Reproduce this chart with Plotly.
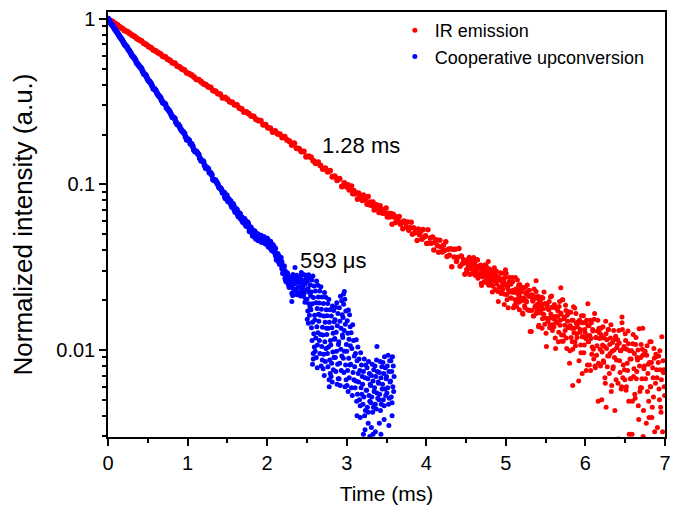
import plotly.graph_objects as go

# ---------------- IR emission (red) : time in ms, normalized intensity ----------------
ir_head_t = [
    0.00, 0.03, 0.06, 0.09, 0.12, 0.15, 0.18, 0.21, 0.24, 0.27,
    0.30, 0.33, 0.36, 0.39, 0.42, 0.45, 0.48, 0.51, 0.54, 0.57,
    0.60, 0.63, 0.66, 0.69, 0.72, 0.75, 0.78, 0.81, 0.84, 0.87,
    0.90, 0.93, 0.96, 0.99, 1.02, 1.05, 1.08, 1.11, 1.14, 1.17,
    1.20, 1.23, 1.26, 1.29, 1.32, 1.35, 1.38, 1.41, 1.44, 1.47,
    1.50, 1.53, 1.56, 1.59, 1.62, 1.65, 1.68, 1.71, 1.74, 1.77,
    1.80, 1.83, 1.86, 1.89, 1.92, 1.95, 1.98, 2.01, 2.04, 2.07,
    2.10, 2.13, 2.16, 2.19, 2.22, 2.25, 2.28, 2.31, 2.34, 2.37,
    2.40, 2.43, 2.46, 2.49, 2.52, 2.55, 2.58, 2.61, 2.64, 2.67,
    2.70, 2.73, 2.76, 2.79, 2.82, 2.85, 2.88, 2.91, 2.94, 2.97]
ir_head_v = [
    1.000, 0.975, 0.958, 0.935, 0.917, 0.892, 0.874, 0.851, 0.838, 0.818,
    0.798, 0.784, 0.762, 0.747, 0.734, 0.711, 0.700, 0.681, 0.668, 0.648,
    0.640, 0.623, 0.612, 0.594, 0.587, 0.570, 0.559, 0.542, 0.538, 0.519,
    0.511, 0.497, 0.490, 0.472, 0.466, 0.457, 0.445, 0.431, 0.429, 0.416,
    0.405, 0.399, 0.388, 0.385, 0.369, 0.365, 0.354, 0.350, 0.334, 0.335,
    0.327, 0.315, 0.313, 0.303, 0.301, 0.289, 0.285, 0.274, 0.274, 0.267,
    0.259, 0.257, 0.247, 0.243, 0.242, 0.229, 0.229, 0.220, 0.218, 0.207,
    0.210, 0.202, 0.201, 0.192, 0.194, 0.185, 0.182, 0.173, 0.177, 0.165,
    0.164, 0.158, 0.158, 0.147, 0.148, 0.146, 0.139, 0.134, 0.136, 0.130,
    0.124, 0.125, 0.119, 0.121, 0.111, 0.112, 0.106, 0.108, 0.097, 0.102]

ir_mid_t = [
    3.000, 3.015, 3.030, 3.045, 3.060, 3.075, 3.090, 3.105, 3.120, 3.135,
    3.150, 3.165, 3.180, 3.195, 3.210, 3.225, 3.240, 3.255, 3.270, 3.285,
    3.300, 3.315, 3.330, 3.345, 3.360, 3.375, 3.390, 3.405, 3.420, 3.435,
    3.450, 3.465, 3.480, 3.495, 3.510, 3.525, 3.540, 3.555, 3.570, 3.585,
    3.600, 3.615, 3.630, 3.645, 3.660, 3.675, 3.690, 3.705, 3.720, 3.735,
    3.750, 3.765, 3.780, 3.795, 3.810, 3.825, 3.840, 3.855, 3.870, 3.885,
    3.900, 3.915, 3.930, 3.945, 3.960, 3.975, 3.990, 4.005, 4.020, 4.035,
    4.050, 4.065, 4.080, 4.095, 4.110, 4.125, 4.140, 4.155, 4.170, 4.185,
    4.200, 4.215, 4.230, 4.245, 4.260, 4.275, 4.290, 4.305, 4.320, 4.335,
    4.350, 4.365, 4.380, 4.395, 4.410, 4.425, 4.440, 4.455, 4.470, 4.485]
ir_mid_v = [
    0.0963, 0.0996, 0.0925, 0.0938, 0.0976, 0.0878, 0.0919, 0.0874, 0.0886, 0.0813,
    0.0886, 0.0839, 0.0856, 0.0798, 0.0861, 0.0805, 0.0811, 0.0758, 0.0846, 0.0754,
    0.0782, 0.0746, 0.0783, 0.0699, 0.0743, 0.0754, 0.0716, 0.0675, 0.0743, 0.0700,
    0.0668, 0.0702, 0.0670, 0.0720, 0.0634, 0.0669, 0.0634, 0.0667, 0.0574, 0.0660,
    0.0633, 0.0588, 0.0634, 0.0600, 0.0639, 0.0574, 0.0591, 0.0540, 0.0601, 0.0584,
    0.0553, 0.0592, 0.0528, 0.0547, 0.0591, 0.0500, 0.0547, 0.0508, 0.0526, 0.0458,
    0.0537, 0.0496, 0.0519, 0.0466, 0.0534, 0.0481, 0.0490, 0.0440, 0.0531, 0.0442,
    0.0474, 0.0441, 0.0481, 0.0401, 0.0447, 0.0462, 0.0426, 0.0389, 0.0459, 0.0419,
    0.0390, 0.0428, 0.0398, 0.0450, 0.0367, 0.0405, 0.0373, 0.0408, 0.0318, 0.0406,
    0.0364, 0.0405, 0.0342, 0.0363, 0.0410, 0.0320, 0.0369, 0.0332, 0.0351, 0.0286]

ir_tail_t = [
    4.50, 4.51, 4.52, 4.53, 4.54, 4.55, 4.56, 4.57, 4.58, 4.59,
    4.60, 4.61, 4.62, 4.63, 4.64, 4.65, 4.66, 4.67, 4.68, 4.69,
    4.70, 4.71, 4.72, 4.73, 4.74, 4.75, 4.76, 4.77, 4.78, 4.79,
    4.80, 4.81, 4.82, 4.83, 4.84, 4.85, 4.86, 4.87, 4.88, 4.89,
    4.90, 4.91, 4.92, 4.93, 4.94, 4.95, 4.96, 4.97, 4.98, 4.99,
    5.00, 5.01, 5.02, 5.03, 5.04, 5.05, 5.06, 5.07, 5.08, 5.09,
    5.10, 5.11, 5.12, 5.13, 5.14, 5.15, 5.16, 5.17, 5.18, 5.19,
    5.20, 5.21, 5.22, 5.23, 5.24, 5.25, 5.26, 5.27, 5.28, 5.29,
    5.30, 5.31, 5.32, 5.33, 5.34, 5.35, 5.36, 5.37, 5.38, 5.39,
    5.40, 5.41, 5.42, 5.43, 5.44, 5.45, 5.46, 5.47, 5.48, 5.49,
    5.50, 5.51, 5.52, 5.53, 5.54, 5.55, 5.56, 5.57, 5.58, 5.59,
    5.60, 5.61, 5.62, 5.63, 5.64, 5.65, 5.66, 5.67, 5.68, 5.69,
    5.70, 5.71, 5.72, 5.73, 5.74, 5.75, 5.76, 5.77, 5.78, 5.79,
    5.80, 5.81, 5.82, 5.83, 5.84, 5.85, 5.86, 5.87, 5.88, 5.89,
    5.90, 5.91, 5.92, 5.93, 5.94, 5.95, 5.96, 5.97, 5.98, 5.99,
    6.00, 6.01, 6.02, 6.03, 6.04, 6.05, 6.06, 6.07, 6.08, 6.09,
    6.10, 6.11, 6.12, 6.13, 6.14, 6.15, 6.16, 6.17, 6.18, 6.19,
    6.20, 6.21, 6.22, 6.23, 6.24, 6.25, 6.26, 6.27, 6.28, 6.29,
    6.30, 6.31, 6.32, 6.33, 6.34, 6.35, 6.36, 6.37, 6.38, 6.39,
    6.40, 6.41, 6.42, 6.43, 6.44, 6.45, 6.46, 6.47, 6.48, 6.49,
    6.50, 6.51, 6.52, 6.53, 6.54, 6.55, 6.56, 6.57, 6.58, 6.59,
    6.60, 6.61, 6.62, 6.63, 6.64, 6.65, 6.66, 6.67, 6.68, 6.69,
    6.70, 6.71, 6.72, 6.73, 6.74, 6.75, 6.76, 6.77, 6.78, 6.79,
    6.80, 6.81, 6.82, 6.83, 6.84, 6.85, 6.86, 6.87, 6.88, 6.89,
    6.90, 6.91, 6.92, 6.93, 6.94, 6.95, 6.96, 6.97, 6.98, 6.99]
ir_tail_v = [
    0.0335, 0.0298, 0.0348, 0.0322, 0.0363, 0.0309, 0.0330, 0.0288, 0.0350, 0.0340,
    0.0295, 0.0336, 0.0282, 0.0305, 0.0352, 0.0271, 0.0321, 0.0289, 0.0310, 0.0253,
    0.0311, 0.0277, 0.0303, 0.0259, 0.0327, 0.0282, 0.0295, 0.0254, 0.0342, 0.0264,
    0.0279, 0.0253, 0.0295, 0.0224, 0.0271, 0.0289, 0.0261, 0.0230, 0.0300, 0.0266,
    0.0225, 0.0264, 0.0240, 0.0292, 0.0219, 0.0258, 0.0232, 0.0269, 0.0188, 0.0274,
    0.0248, 0.0216, 0.0237, 0.0180, 0.0258, 0.0224, 0.0250, 0.0206, 0.0274, 0.0229,
    0.0227, 0.0186, 0.0274, 0.0196, 0.0230, 0.0204, 0.0246, 0.0175, 0.0222, 0.0240,
    0.0198, 0.0167, 0.0237, 0.0203, 0.0180, 0.0219, 0.0195, 0.0247, 0.0174, 0.0213,
    0.0173, 0.0210, 0.0129, 0.0215, 0.0197, 0.0160, 0.0210, 0.0184, 0.0225, 0.0171,
    0.0180, 0.0138, 0.0200, 0.0190, 0.0167, 0.0208, 0.0154, 0.0177, 0.0224, 0.0143,
    0.0191, 0.0105, 0.0186, 0.0149, 0.0175, 0.0136, 0.0209, 0.0157, 0.0181, 0.0142,
    0.0154, 0.0188, 0.0118, 0.0149, 0.0177, 0.0159, 0.0112, 0.0183, 0.0141, 0.0167,
    0.0123, 0.0201, 0.0113, 0.0154, 0.0141, 0.0186, 0.0118, 0.0162, 0.0136, 0.0170,
    0.0083, 0.0140, 0.0119, 0.0151, 0.0101, 0.0182, 0.0135, 0.0112, 0.0166, 0.0125,
    0.0138, 0.0148, 0.0086, 0.0128, 0.0107, 0.0161, 0.0120, 0.0146, 0.0096, 0.0133,
    0.0146, 0.0075, 0.0122, 0.0140, 0.0112, 0.0081, 0.0151, 0.0117, 0.0094, 0.0133,
    0.0101, 0.0153, 0.0080, 0.0119, 0.0093, 0.0130, 0.0049, 0.0135, 0.0117, 0.0080,
    0.0123, 0.0097, 0.0138, 0.0084, 0.0105, 0.0063, 0.0125, 0.0115, 0.0092, 0.0133,
    0.0072, 0.0095, 0.0142, 0.0061, 0.0111, 0.0079, 0.0100, 0.0043, 0.0121, 0.0087,
    0.0107, 0.0063, 0.0131, 0.0086, 0.0099, 0.0058, 0.0146, 0.0068, 0.0102, 0.0076,
    0.0125, 0.0057, 0.0101, 0.0075, 0.0109, 0.0031, 0.0088, 0.0067, 0.0099, 0.0049,
    0.0124, 0.0077, 0.0054, 0.0108, 0.0067, 0.0090, 0.0100, 0.0038, 0.0080, 0.0059,
    0.0108, 0.0067, 0.0093, 0.0043, 0.0080, 0.0098, 0.0012, 0.0093, 0.0056, 0.0082,
    0.0039, 0.0112, 0.0060, 0.0084, 0.0045, 0.0068, 0.0102, 0.0032, 0.0063, 0.0091,
    0.0068, 0.0021, 0.0092, 0.0050, 0.0076, 0.0042, 0.0120, 0.0032, 0.0073, 0.0060]

ir_tail2_t = [
    5.505, 5.515, 5.525, 5.535, 5.545, 5.555, 5.565, 5.575, 5.585, 5.595,
    5.605, 5.615, 5.625, 5.635, 5.645, 5.655, 5.665, 5.675, 5.685, 5.695,
    5.705, 5.715, 5.725, 5.735, 5.745, 5.755, 5.765, 5.775, 5.785, 5.795,
    5.805, 5.815, 5.825, 5.835, 5.845, 5.855, 5.865, 5.875, 5.885, 5.895,
    5.905, 5.915, 5.925, 5.935, 5.945, 5.955, 5.965, 5.975, 5.985, 5.995,
    6.005, 6.015, 6.025, 6.035, 6.045, 6.055, 6.065, 6.075, 6.085, 6.095,
    6.105, 6.115, 6.125, 6.135, 6.145, 6.155, 6.165, 6.175, 6.185, 6.195,
    6.205, 6.215, 6.225, 6.235, 6.245, 6.255, 6.265, 6.275, 6.285, 6.295,
    6.305, 6.315, 6.325, 6.335, 6.345, 6.355, 6.365, 6.375, 6.385, 6.395,
    6.405, 6.415, 6.425, 6.435, 6.445, 6.455, 6.465, 6.475, 6.485, 6.495,
    6.505, 6.515, 6.525, 6.535, 6.545, 6.555, 6.565, 6.575, 6.585, 6.595,
    6.605, 6.615, 6.625, 6.635, 6.645, 6.655, 6.665, 6.675, 6.685, 6.695,
    6.705, 6.715, 6.725, 6.735, 6.745, 6.755, 6.765, 6.775, 6.785, 6.795,
    6.805, 6.815, 6.825, 6.835, 6.845, 6.855, 6.865, 6.875, 6.885, 6.895,
    6.905, 6.915, 6.925, 6.935, 6.945, 6.955, 6.965, 6.975, 6.985, 6.995]
ir_tail2_v = [
    0.0126, 0.0188, 0.0178, 0.0155, 0.0196, 0.0142, 0.0165, 0.0212, 0.0131, 0.0181,
    0.0138, 0.0159, 0.0102, 0.0180, 0.0146, 0.0172, 0.0128, 0.0196, 0.0151, 0.0164,
    0.0113, 0.0201, 0.0123, 0.0157, 0.0131, 0.0173, 0.0102, 0.0149, 0.0167, 0.0139,
    0.0099, 0.0169, 0.0135, 0.0112, 0.0151, 0.0127, 0.0179, 0.0106, 0.0145, 0.0119,
    0.0146, 0.0065, 0.0151, 0.0133, 0.0096, 0.0146, 0.0120, 0.0161, 0.0107, 0.0128,
    0.0117, 0.0151, 0.0081, 0.0112, 0.0140, 0.0122, 0.0075, 0.0146, 0.0104, 0.0130,
    0.0088, 0.0166, 0.0078, 0.0119, 0.0106, 0.0151, 0.0083, 0.0127, 0.0101, 0.0135,
    0.0050, 0.0107, 0.0086, 0.0118, 0.0068, 0.0149, 0.0102, 0.0079, 0.0133, 0.0092,
    0.0108, 0.0118, 0.0056, 0.0098, 0.0077, 0.0131, 0.0090, 0.0116, 0.0066, 0.0103,
    0.0115, 0.0029, 0.0110, 0.0073, 0.0099, 0.0060, 0.0133, 0.0081, 0.0105, 0.0066,
    0.0114, 0.0060, 0.0083, 0.0130, 0.0049, 0.0099, 0.0067, 0.0088, 0.0031, 0.0109,
    0.0069, 0.0095, 0.0051, 0.0119, 0.0074, 0.0087, 0.0046, 0.0134, 0.0056, 0.0090,
    0.0059, 0.0101, 0.0030, 0.0077, 0.0095, 0.0067, 0.0036, 0.0106, 0.0072, 0.0049,
    0.0084, 0.0060, 0.0112, 0.0039, 0.0078, 0.0052, 0.0089, 0.0008, 0.0094, 0.0076,
    0.0034, 0.0084, 0.0058, 0.0099, 0.0045, 0.0066, 0.0024, 0.0086, 0.0076, 0.0053]

ir_tail3_t = [
    4.505, 4.515, 4.525, 4.535, 4.545, 4.555, 4.565, 4.575, 4.585, 4.595,
    4.605, 4.615, 4.625, 4.635, 4.645, 4.655, 4.665, 4.675, 4.685, 4.695,
    4.705, 4.715, 4.725, 4.735, 4.745, 4.755, 4.765, 4.775, 4.785, 4.795,
    4.805, 4.815, 4.825, 4.835, 4.845, 4.855, 4.865, 4.875, 4.885, 4.895,
    4.905, 4.915, 4.925, 4.935, 4.945, 4.955, 4.965, 4.975, 4.985, 4.995,
    5.005, 5.015, 5.025, 5.035, 5.045, 5.055, 5.065, 5.075, 5.085, 5.095,
    5.105, 5.115, 5.125, 5.135, 5.145, 5.155, 5.165, 5.175, 5.185, 5.195,
    5.205, 5.215, 5.225, 5.235, 5.245, 5.255, 5.265, 5.275, 5.285, 5.295,
    5.305, 5.315, 5.325, 5.335, 5.345, 5.355, 5.365, 5.375, 5.385, 5.395,
    5.405, 5.415, 5.425, 5.435, 5.445, 5.455, 5.465, 5.475, 5.485, 5.495]
ir_tail3_v = [
    0.0306, 0.0340, 0.0314, 0.0356, 0.0285, 0.0332, 0.0350, 0.0322, 0.0291, 0.0361,
    0.0305, 0.0282, 0.0321, 0.0297, 0.0349, 0.0276, 0.0315, 0.0289, 0.0326, 0.0245,
    0.0311, 0.0293, 0.0256, 0.0306, 0.0280, 0.0321, 0.0267, 0.0288, 0.0246, 0.0308,
    0.0279, 0.0256, 0.0297, 0.0243, 0.0266, 0.0313, 0.0232, 0.0282, 0.0250, 0.0271,
    0.0196, 0.0274, 0.0240, 0.0266, 0.0222, 0.0290, 0.0245, 0.0258, 0.0217, 0.0305,
    0.0289, 0.0201, 0.0242, 0.0229, 0.0274, 0.0206, 0.0250, 0.0224, 0.0258, 0.0180,
    0.0222, 0.0201, 0.0233, 0.0183, 0.0264, 0.0217, 0.0194, 0.0248, 0.0207, 0.0230,
    0.0226, 0.0164, 0.0206, 0.0185, 0.0239, 0.0198, 0.0224, 0.0174, 0.0211, 0.0229,
    0.0129, 0.0210, 0.0173, 0.0199, 0.0160, 0.0233, 0.0181, 0.0205, 0.0166, 0.0189,
    0.0211, 0.0141, 0.0172, 0.0200, 0.0182, 0.0135, 0.0206, 0.0164, 0.0190, 0.0156]

ir_out_t = [5.38, 5.69, 5.84, 5.96, 6.03, 6.26, 6.46, 6.72]
ir_out_v = [0.0262, 0.0237, 0.0061, 0.0072, 0.0190, 0.0045, 0.0158, 0.0135]

# ---------------- Cooperative upconversion (blue) ----------------
cu_head_t = [
    0.00, 0.03, 0.06, 0.09, 0.12, 0.15, 0.18, 0.21, 0.24, 0.27,
    0.30, 0.33, 0.36, 0.39, 0.42, 0.45, 0.48, 0.51, 0.54, 0.57,
    0.60, 0.63, 0.66, 0.69, 0.72, 0.75, 0.78, 0.81, 0.84, 0.87,
    0.90, 0.93, 0.96, 0.99, 1.02, 1.05, 1.08, 1.11, 1.14, 1.17,
    1.20, 1.23, 1.26, 1.29, 1.32, 1.35, 1.38, 1.41, 1.44]
cu_head_v = [
    1.000, 0.948, 0.907, 0.858, 0.822, 0.775, 0.741, 0.699, 0.672, 0.638,
    0.603, 0.580, 0.543, 0.521, 0.501, 0.466, 0.451, 0.423, 0.407, 0.378,
    0.369, 0.346, 0.334, 0.311, 0.305, 0.285, 0.273, 0.254, 0.249, 0.231,
    0.223, 0.210, 0.203, 0.186, 0.184, 0.175, 0.161, 0.158, 0.151, 0.139,
    0.137, 0.125, 0.124, 0.117, 0.107, 0.106, 0.100, 0.095, 0.089]

cu_head2_t = [
    0.015, 0.045, 0.075, 0.105, 0.135, 0.165, 0.195, 0.225, 0.255, 0.285,
    0.315, 0.345, 0.375, 0.405, 0.435, 0.465, 0.495, 0.525, 0.555, 0.585,
    0.615, 0.645, 0.675, 0.705, 0.735, 0.765, 0.795, 0.825, 0.855, 0.885,
    0.915, 0.945, 0.975, 1.005, 1.035, 1.065, 1.095, 1.125, 1.155, 1.185,
    1.215, 1.245, 1.275, 1.305, 1.335, 1.365, 1.395, 1.425]
cu_head2_v = [
    0.975, 0.925, 0.884, 0.838, 0.797, 0.760, 0.718, 0.688, 0.652, 0.622,
    0.589, 0.563, 0.531, 0.510, 0.482, 0.461, 0.435, 0.417, 0.393, 0.377,
    0.356, 0.341, 0.321, 0.309, 0.291, 0.279, 0.263, 0.253, 0.237, 0.229,
    0.215, 0.207, 0.194, 0.187, 0.176, 0.169, 0.158, 0.154, 0.144, 0.139,
    0.130, 0.126, 0.118, 0.114, 0.106, 0.103, 0.096, 0.093]

cu_mid_t = [
    1.46, 1.47, 1.48, 1.49, 1.50, 1.51, 1.52, 1.53, 1.54, 1.55,
    1.56, 1.57, 1.58, 1.59, 1.60, 1.61, 1.62, 1.63, 1.64, 1.65,
    1.66, 1.67, 1.68, 1.69, 1.70, 1.71, 1.72, 1.73, 1.74, 1.75,
    1.76, 1.77, 1.78, 1.79, 1.80, 1.81, 1.82, 1.83, 1.84, 1.85,
    1.86, 1.87, 1.88, 1.89, 1.90, 1.91, 1.92, 1.93, 1.94, 1.95,
    1.96, 1.97, 1.98, 1.99, 2.00, 2.01, 2.02, 2.03, 2.04, 2.05,
    2.06, 2.07, 2.08, 2.09, 2.10, 2.11, 2.12, 2.13, 2.14, 2.15,
    2.16, 2.17, 2.18, 2.19, 2.20, 2.21, 2.22, 2.23, 2.24, 2.25,
    2.26, 2.27, 2.28, 2.29]
cu_mid_v = [
    0.089, 0.084, 0.082, 0.086, 0.083, 0.079, 0.081, 0.078, 0.079, 0.075,
    0.073, 0.076, 0.074, 0.070, 0.068, 0.071, 0.070, 0.066, 0.064, 0.067,
    0.066, 0.062, 0.063, 0.060, 0.059, 0.062, 0.061, 0.057, 0.056, 0.059,
    0.058, 0.055, 0.052, 0.055, 0.054, 0.051, 0.049, 0.052, 0.052, 0.048,
    0.047, 0.050, 0.050, 0.046, 0.046, 0.049, 0.049, 0.045, 0.045, 0.048,
    0.048, 0.045, 0.044, 0.047, 0.047, 0.043, 0.042, 0.045, 0.045, 0.041,
    0.040, 0.043, 0.042, 0.039, 0.041, 0.037, 0.035, 0.038, 0.037, 0.034,
    0.033, 0.036, 0.034, 0.031, 0.029, 0.032, 0.030, 0.027, 0.026, 0.029,
    0.028, 0.025, 0.024, 0.027]

cu_tail_t = [
    2.300, 2.305, 2.310, 2.315, 2.320, 2.325, 2.330, 2.335, 2.340, 2.345,
    2.350, 2.355, 2.360, 2.365, 2.370, 2.375, 2.380, 2.385, 2.390, 2.395,
    2.400, 2.405, 2.410, 2.415, 2.420, 2.425, 2.430, 2.435, 2.440, 2.445,
    2.450, 2.455, 2.460, 2.465, 2.470, 2.475, 2.480, 2.485, 2.490, 2.495,
    2.500, 2.504, 2.507, 2.511, 2.514, 2.518, 2.521, 2.525, 2.529, 2.532, 2.536, 2.539, 2.543, 2.546,
    2.550, 2.554, 2.557, 2.561, 2.564, 2.568, 2.571, 2.575, 2.579, 2.582, 2.586, 2.589, 2.593, 2.596,
    2.600, 2.604, 2.607, 2.611, 2.614, 2.618, 2.621, 2.625, 2.629, 2.632, 2.636, 2.639, 2.643, 2.646,
    2.650, 2.654, 2.657, 2.661, 2.664, 2.668, 2.671, 2.675, 2.679, 2.682, 2.686, 2.689, 2.693, 2.696,
    2.700, 2.704, 2.707, 2.711, 2.714, 2.718, 2.721, 2.725, 2.729, 2.732, 2.736, 2.739, 2.743, 2.746,
    2.750, 2.754, 2.757, 2.761, 2.764, 2.768, 2.771, 2.775, 2.779, 2.782, 2.786, 2.789, 2.793, 2.796,
    2.800, 2.804, 2.807, 2.811, 2.814, 2.818, 2.821, 2.825, 2.829, 2.832, 2.836, 2.839, 2.843, 2.846,
    2.850, 2.854, 2.857, 2.861, 2.864, 2.868, 2.871, 2.875, 2.879, 2.882, 2.886, 2.889, 2.893, 2.896,
    2.900, 2.904, 2.907, 2.911, 2.914, 2.918, 2.921, 2.925, 2.929, 2.932, 2.936, 2.939, 2.943, 2.946,
    2.950, 2.954, 2.957, 2.961, 2.964, 2.968, 2.971, 2.975, 2.979, 2.982, 2.986, 2.989, 2.993, 2.996,
    3.000, 3.004, 3.007, 3.011, 3.014, 3.018, 3.021, 3.025, 3.029, 3.032, 3.036, 3.039, 3.043, 3.046,
    3.050, 3.055, 3.060, 3.065, 3.070, 3.075, 3.080, 3.085, 3.090, 3.095,
    3.100, 3.105, 3.110, 3.115, 3.120, 3.125, 3.130, 3.135, 3.140, 3.145,
    3.150, 3.155, 3.160, 3.165, 3.170, 3.175, 3.180, 3.185, 3.190, 3.195,
    3.200, 3.205, 3.210, 3.215, 3.220, 3.225, 3.230, 3.235, 3.240, 3.245,
    3.250, 3.255, 3.260, 3.265, 3.270, 3.275, 3.280, 3.285, 3.290, 3.295,
    3.300, 3.305, 3.310, 3.315, 3.320, 3.325, 3.330, 3.335, 3.340, 3.345,
    3.350, 3.355, 3.360, 3.365, 3.370, 3.375, 3.380, 3.385, 3.390, 3.395,
    3.400, 3.405, 3.410, 3.415, 3.420, 3.425, 3.430, 3.435, 3.440, 3.445,
    3.450, 3.455, 3.460, 3.465, 3.470, 3.475, 3.480, 3.485, 3.490, 3.495,
    3.500, 3.505, 3.510, 3.515, 3.520, 3.525, 3.530, 3.535, 3.540, 3.545,
    3.550, 3.555, 3.560, 3.565, 3.570, 3.575, 3.580, 3.585, 3.590, 3.595]
cu_tail_v = [
    0.0243, 0.0276, 0.0220, 0.0259, 0.0213, 0.0285, 0.0235, 0.0268, 0.0228, 0.0251,
    0.0253, 0.0226, 0.0270, 0.0233, 0.0282, 0.0215, 0.0257, 0.0222, 0.0279, 0.0241,
    0.0240, 0.0272, 0.0219, 0.0256, 0.0212, 0.0281, 0.0233, 0.0265, 0.0226, 0.0248,
    0.0240, 0.0211, 0.0261, 0.0220, 0.0284, 0.0194, 0.0250, 0.0202, 0.0272, 0.0230,
    0.0202, 0.0153, 0.0260, 0.0172, 0.0235, 0.0145, 0.0284, 0.0190, 0.0223, 0.0162, 0.0274, 0.0181, 0.0247, 0.0212,
    0.0175, 0.0224, 0.0136, 0.0264, 0.0114, 0.0190, 0.0147, 0.0280, 0.0095, 0.0207, 0.0125, 0.0243, 0.0104, 0.0162,
    0.0152, 0.0098, 0.0227, 0.0118, 0.0193, 0.0090, 0.0261, 0.0138, 0.0178, 0.0107, 0.0246, 0.0127, 0.0209, 0.0164,
    0.0149, 0.0192, 0.0114, 0.0227, 0.0095, 0.0162, 0.0124, 0.0241, 0.0080, 0.0176, 0.0105, 0.0209, 0.0087, 0.0137,
    0.0123, 0.0077, 0.0191, 0.0094, 0.0160, 0.0070, 0.0222, 0.0112, 0.0147, 0.0085, 0.0208, 0.0102, 0.0175, 0.0135,
    0.0124, 0.0161, 0.0095, 0.0191, 0.0079, 0.0135, 0.0104, 0.0202, 0.0066, 0.0147, 0.0087, 0.0175, 0.0072, 0.0114,
    0.0107, 0.0069, 0.0160, 0.0083, 0.0136, 0.0064, 0.0184, 0.0097, 0.0126, 0.0076, 0.0173, 0.0090, 0.0148, 0.0116,
    0.0117, 0.0152, 0.0090, 0.0181, 0.0074, 0.0128, 0.0098, 0.0193, 0.0062, 0.0140, 0.0082, 0.0166, 0.0067, 0.0108,
    0.0112, 0.0067, 0.0180, 0.0083, 0.0149, 0.0061, 0.0211, 0.0101, 0.0135, 0.0075, 0.0198, 0.0092, 0.0163, 0.0123,
    0.0119, 0.0157, 0.0089, 0.0189, 0.0073, 0.0131, 0.0098, 0.0202, 0.0060, 0.0143, 0.0081, 0.0172, 0.0066, 0.0108,
    0.0098, 0.0061, 0.0150, 0.0075, 0.0126, 0.0056, 0.0174, 0.0089, 0.0116, 0.0068, 0.0163, 0.0081, 0.0138, 0.0106,
    0.0082, 0.0127, 0.0059, 0.0102, 0.0053, 0.0142, 0.0073, 0.0114, 0.0066, 0.0092,
    0.0079, 0.0059, 0.0095, 0.0065, 0.0115, 0.0049, 0.0086, 0.0054, 0.0104, 0.0072,
    0.0064, 0.0088, 0.0050, 0.0075, 0.0046, 0.0096, 0.0059, 0.0081, 0.0054, 0.0069,
    0.0062, 0.0047, 0.0074, 0.0052, 0.0088, 0.0040, 0.0068, 0.0043, 0.0081, 0.0057,
    0.0057, 0.0078, 0.0045, 0.0067, 0.0042, 0.0085, 0.0053, 0.0072, 0.0049, 0.0062,
    0.0061, 0.0048, 0.0070, 0.0052, 0.0082, 0.0042, 0.0065, 0.0045, 0.0076, 0.0056,
    0.0059, 0.0080, 0.0047, 0.0069, 0.0044, 0.0087, 0.0055, 0.0074, 0.0051, 0.0064,
    0.0063, 0.0050, 0.0073, 0.0054, 0.0085, 0.0043, 0.0068, 0.0047, 0.0079, 0.0058,
    0.0062, 0.0084, 0.0050, 0.0072, 0.0046, 0.0091, 0.0058, 0.0078, 0.0053, 0.0067,
    0.0069, 0.0055, 0.0080, 0.0059, 0.0093, 0.0047, 0.0074, 0.0051, 0.0086, 0.0064,
    0.0065, 0.0086, 0.0052, 0.0074, 0.0048, 0.0091, 0.0060, 0.0080, 0.0056, 0.0069]

cu_out_t = [2.31, 2.35, 2.43, 2.57, 2.58, 2.63, 2.78, 2.96, 2.97, 3.13, 3.17,
            3.21, 3.23, 3.27, 3.29, 3.31, 3.33, 3.36, 3.38, 3.41, 3.43, 3.47, 3.53, 3.57]
cu_out_v = [0.0196, 0.0315, 0.0293, 0.0082, 0.0088, 0.0078, 0.0060, 0.0218, 0.0225, 0.0040, 0.0039,
            0.0031, 0.0033, 0.0036, 0.0030, 0.0034, 0.0031, 0.0032, 0.0105, 0.0036, 0.0031, 0.0038, 0.0035, 0.0040]

# ---------------- axis ticks / labels ----------------
x_ticks = [0, 1, 2, 3, 4, 5, 6, 7]
x_minor = [0.5, 1.5, 2.5, 3.5, 4.5, 5.5, 6.5]
y_ticks = [0.01, 0.1, 1]
y_ticktext = ["0.01", "0.1", "1"]
y_minor = [0.003, 0.004, 0.005, 0.006, 0.007, 0.008, 0.009,
           0.02, 0.03, 0.04, 0.05, 0.06, 0.07, 0.08, 0.09,
           0.2, 0.3, 0.4, 0.5, 0.6, 0.7, 0.8, 0.9]

RED = "#ff0000"
BLUE = "#0000ff"
FONT = "Arial, 'Liberation Sans', Helvetica, sans-serif"

fig = go.Figure()

# legend-bearing traces first (small dots, like the reference legend)
fig.add_trace(go.Scatter(
    x=ir_tail_t + ir_tail2_t + ir_tail3_t + ir_out_t,
    y=ir_tail_v + ir_tail2_v + ir_tail3_v + ir_out_v,
    mode="markers", name="IR emission", legendgroup="ir",
    marker=dict(color=RED, size=5, line=dict(width=0))))
fig.add_trace(go.Scatter(
    x=cu_tail_t + cu_out_t, y=cu_tail_v + cu_out_v,
    mode="markers", name="Cooperative upconversion", legendgroup="cu",
    marker=dict(color=BLUE, size=5, line=dict(width=0))))
# denser early parts drawn with slightly larger dots
fig.add_trace(go.Scatter(
    x=ir_head_t, y=ir_head_v, mode="markers", name="IR emission",
    legendgroup="ir", showlegend=False,
    marker=dict(color=RED, size=6, line=dict(width=0))))
fig.add_trace(go.Scatter(
    x=ir_mid_t, y=ir_mid_v, mode="markers", name="IR emission",
    legendgroup="ir", showlegend=False,
    marker=dict(color=RED, size=5.5, line=dict(width=0))))
fig.add_trace(go.Scatter(
    x=cu_head_t + cu_head2_t + cu_mid_t, y=cu_head_v + cu_head2_v + cu_mid_v,
    mode="markers", name="Cooperative upconversion",
    legendgroup="cu", showlegend=False,
    marker=dict(color=BLUE, size=6, line=dict(width=0))))

axis_common = dict(
    showgrid=False, zeroline=False, showline=True, linecolor="black", linewidth=1.5,
    mirror=True, ticks="outside", ticklen=7, tickwidth=1.5, tickcolor="black",
    automargin=False, ticklabeloverflow="allow",
    tickfont=dict(family=FONT, size=20, color="black"),
)

# The page places the figure 8 px in from the top-left corner, so the figure
# is 8 px smaller than the window and its margins are shifted accordingly.
fig.update_layout(
    width=671, height=500,
    margin=dict(l=100, r=14, t=4, b=71),
    paper_bgcolor="white", plot_bgcolor="white",
    font=dict(family=FONT, size=20, color="black"),
    legend=dict(x=0.515, y=1.0, xanchor="left", yanchor="top",
                bgcolor="rgba(0,0,0,0)", borderwidth=0,
                font=dict(family=FONT, size=18, color="black"),
                tracegroupgap=0),
    xaxis=dict(
        range=[0, 7], tickmode="array", tickvals=x_ticks,
        ticktext=[str(v) for v in x_ticks],
        minor=dict(ticks="outside", ticklen=4, tickwidth=1.5, tickcolor="black",
                   tickmode="array", tickvals=x_minor, showgrid=False),
        title=dict(text="Time (ms)", font=dict(family=FONT, size=21), standoff=14),
        **axis_common),
    yaxis=dict(
        type="log", range=[-2.526, 0.041], tickmode="array",
        tickvals=y_ticks, ticktext=y_ticktext,
        minor=dict(ticks="outside", ticklen=4, tickwidth=1.5, tickcolor="black",
                   tickmode="array", tickvals=y_minor, showgrid=False),
        title=dict(text="Normalized intensity (a.u.)", font=dict(family=FONT, size=26), standoff=22),
        **axis_common),
    annotations=[
        dict(x=3.18, y=-0.767, xref="x", yref="y", text="1.28 ms", showarrow=False,
             font=dict(family=FONT, size=22, color="black")),
        dict(x=2.84, y=-1.462, xref="x", yref="y", text="593 μs", showarrow=False,
             font=dict(family=FONT, size=22, color="black")),
    ],
)

fig.write_html("out.html")
